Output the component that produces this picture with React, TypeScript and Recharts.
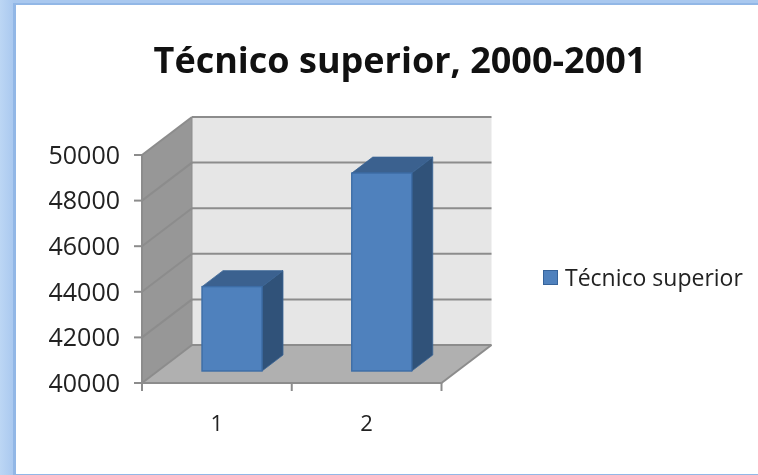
import React from "react";
import { BarChart, Bar, XAxis, YAxis, ReferenceArea, Legend } from "recharts";

const categories = ["1", "2"];
const seriesName = "Técnico superior";
const seriesValues = [43700, 48680];
const yTicks = [40000, 42000, 44000, 46000, 48000, 50000];
const titleText = "Técnico superior, 2000-2001";

const rows = categories.map((c, i) => ({ category: c, value: seriesValues[i] }));

const FONT = "'Open Sans', sans-serif";
const DX = 50, DY = -38; // depth of the walls
const BDX = 21, BDY = -16; // depth of the bars
const OFF_X = 15, OFF_Y = -12; // bar position within the depth
const GRID = "#8c8c8c";
const GW = 2;

function Walls(p: any) {
  const { x, y, width: w, height: h } = p;
  const b = y + h;
  const r = x + w;
  const steps = yTicks.length - 1;
  const levels = yTicks.map((_, i) => y + (h * i) / steps);
  const n = categories.length;
  return (
    <g>
      <polygon points={`${x + DX},${y + DY} ${r + DX},${y + DY} ${r + DX},${b + DY} ${x + DX},${b + DY}`} fill="#e6e6e6" />
      <polygon points={`${x},${y} ${x + DX},${y + DY} ${x + DX},${b + DY} ${x},${b}`} fill="#979797" />
      <polygon points={`${x},${b} ${x + DX},${b + DY} ${r + DX},${b + DY} ${r},${b}`} fill="#b0b0b0" />
      {levels.map((ly, i) => (
        <g key={i}>
          <line x1={x} y1={ly} x2={x + DX} y2={ly + DY} stroke={GRID} strokeWidth={GW} />
          <line x1={x + DX} y1={ly + DY} x2={r + DX} y2={ly + DY} stroke={GRID} strokeWidth={GW} />
        </g>
      ))}
      <line x1={x + DX} y1={y + DY} x2={x + DX} y2={b + DY} stroke={GRID} strokeWidth={1} />
      <line x1={r} y1={b} x2={r + DX} y2={b + DY} stroke={GRID} strokeWidth={GW} />
      {categories.concat("").map((_, i) => {
        const tx = x + (w * i) / n;
        return <line key={i} x1={tx} y1={b} x2={tx} y2={b + 8} stroke={GRID} strokeWidth={GW} />;
      })}
    </g>
  );
}

function Bar3D(p: any) {
  const x = p.x + OFF_X, y = p.y + OFF_Y, w = p.width, h = p.height;
  const r = x + w, b = y + h;
  return (
    <g>
      <polygon points={`${x},${y} ${x + BDX},${y + BDY} ${r + BDX},${y + BDY} ${r},${y}`} fill="#3b618f" stroke="#3a6596" strokeWidth={0.8} />
      <polygon points={`${r},${y} ${r + BDX},${y + BDY} ${r + BDX},${b + BDY} ${r},${b}`} fill="#305279" stroke="#3a6596" strokeWidth={0.8} />
      <rect x={x} y={y} width={w} height={h} fill="#4f81bd" stroke="#3d6da6" strokeWidth={1.4} />
    </g>
  );
}

function LegendBox(p: any) {
  const items = p.payload || [];
  return (
    <div>
      {items.map((it: any) => (
        <div key={it.value} style={{ display: "flex", alignItems: "center", fontFamily: FONT, fontSize: 23, lineHeight: "30px", color: "#222", whiteSpace: "nowrap" }}>
          <span style={{ width: 13, height: 13, background: "#4f81bd", border: "1.5px solid #36639a", marginRight: 7, display: "inline-block" }} />
          {it.value}
        </div>
      ))}
    </div>
  );
}

export default function App() {
  return (
    <div style={{ position: "absolute", left: 0, top: 0, width: 758, height: 475, overflow: "hidden", background: "linear-gradient(to right, #bcd6f4, #a9c8ef 14px)" }}>
      <div style={{ position: "absolute", left: 13, top: 3, width: 745, height: 469, background: "#fff", borderLeft: "3px solid #92b7e6", borderTop: "2px solid #92b7e6", borderBottom: "3px solid #92b7e6", boxSizing: "content-box" }} />
      <div style={{ position: "absolute", left: 0, top: 0, width: 758, height: 475, filter: "blur(0.35px)" }}>
        <BarChart width={758} height={475} data={rows} margin={{ left: 0, right: 316.5, top: 155, bottom: 32 }}>
          <XAxis dataKey="category" height={30} axisLine={{ stroke: GRID, strokeWidth: GW }} tickLine={false} tickMargin={26} tick={{ fill: "#222", fontSize: 22, fontFamily: FONT }} />
          <YAxis domain={[40000, 50000]} ticks={yTicks} width={142} interval={0} axisLine={{ stroke: GRID, strokeWidth: GW }} tickSize={8} tickMargin={14} tickLine={{ stroke: GRID, strokeWidth: GW }} tick={{ fill: "#222", fontSize: 25, fontFamily: FONT }} />
          <ReferenceArea y1={40000} y2={50000} ifOverflow="visible" shape={<Walls />} />
          <Bar dataKey="value" name={seriesName} fill="#4f81bd" barSize={60} isAnimationActive={false} shape={<Bar3D />} />
          <Legend content={<LegendBox />} wrapperStyle={{ position: "absolute", left: 543, top: 262, width: 215 }} />
        </BarChart>
      </div>
      <div style={{ position: "absolute", left: 0, width: 800, top: 35, textAlign: "center", fontFamily: FONT, fontWeight: 700, fontSize: 36, lineHeight: "50px", color: "#111", filter: "blur(0.35px)" }}>
        {titleText}
      </div>
    </div>
  );
}
